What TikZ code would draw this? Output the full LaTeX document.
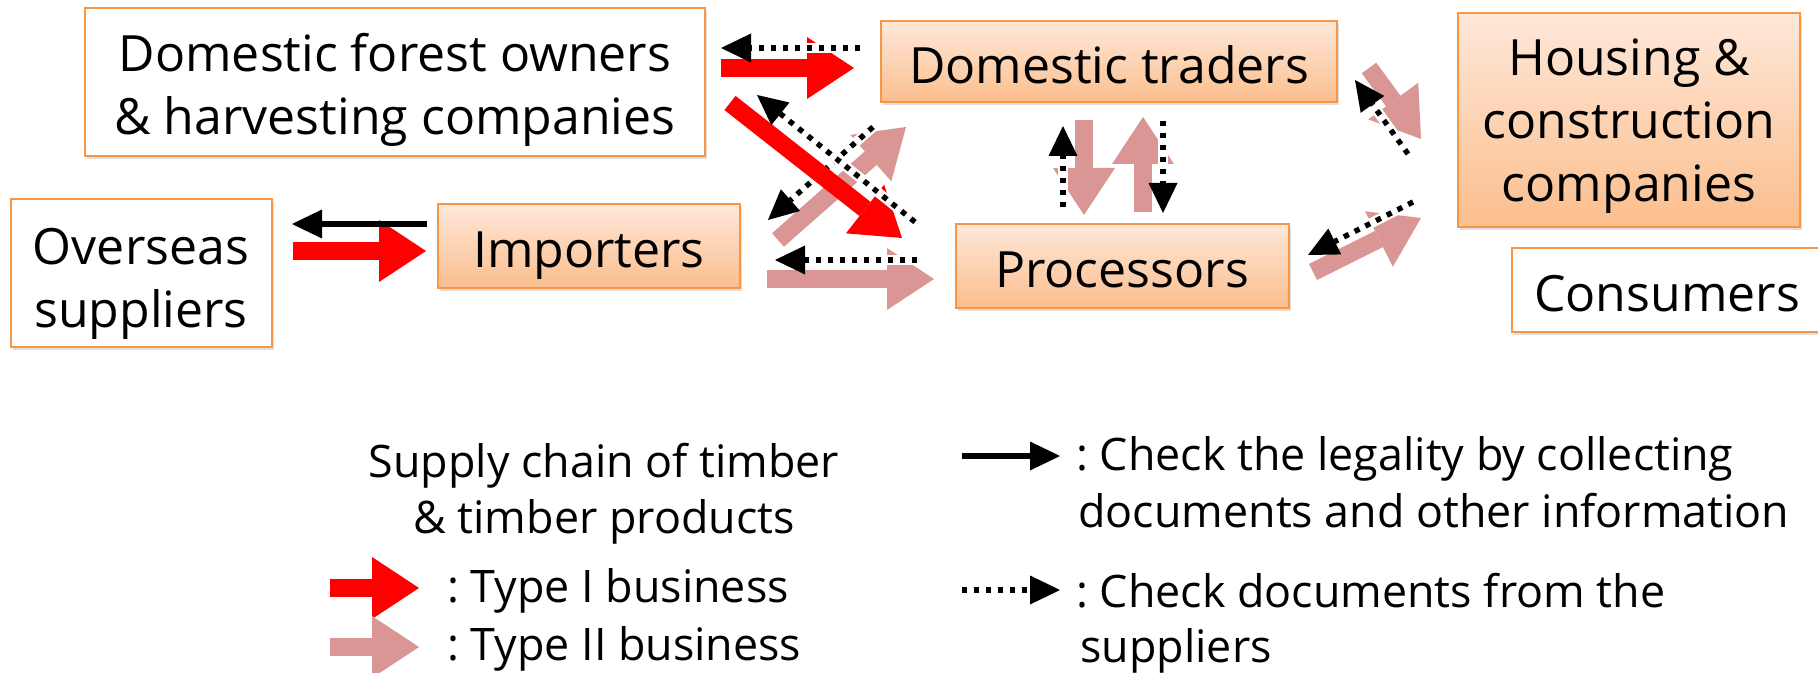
\documentclass[tikz,border=0pt]{standalone}
\usepackage{fontspec}
\setmainfont{Open Sans}
\usetikzlibrary{arrows.meta,shadows}
\frenchspacing

\definecolor{boxline}{HTML}{F79646}
\definecolor{boxtop}{HTML}{FEE8D9}
\definecolor{boxbottom}{HTML}{FBBE8D}
\definecolor{typeone}{HTML}{FF0000}
\definecolor{typetwo}{HTML}{D99694}

\begin{document}
\begin{tikzpicture}[x=0.5pt,y=-0.5pt,
	  box/.style={draw=boxline,line width=1pt,fill=white,align=center,inner sep=0pt,
	    font=\fontsize{25}{31.5}\selectfont,
	    drop shadow={shadow xshift=1pt,shadow yshift=-1.5pt,opacity=0.25}},
	  shadedbox/.style={box,top color=boxtop,bottom color=boxbottom},
	  oneline/.style={text height=21.5pt,text depth=0pt},
	  flow/.style={line width=9pt,-{Triangle[length=23.5pt,width=31pt,line width=0pt]}},
	  typeI/.style={flow,draw=typeone},
	  typeII/.style={flow,draw=typetwo},
	  legality/.style={line width=2.7pt,-{Triangle[length=15pt,width=14.5pt,line width=0pt]}},
	  docs/.style={legality,dash pattern=on 2.7pt off 3.3pt,
	    preaction={draw=white,line width=5pt,solid,-,shorten >=10pt}},
	  legend/.style={inner sep=0pt,font=\fontsize{22.4}{28}\selectfont}]

	\useasboundingbox (0,0) rectangle (1818,673);

	% actors
	\node[box,minimum width=310pt,minimum height=74pt] (forest) at (395,82) {\rule{0pt}{27pt}Domestic forest owners\\\& harvesting companies};
	\node[shadedbox,oneline,minimum width=228pt,minimum height=40.5pt] (traders) at (1109,62) {Domestic traders};
	\node[shadedbox,minimum width=171pt,minimum height=107pt] (housing) at (1629,120) {\rule{0pt}{25pt}Housing \&\\construction\\companies};
	\node[box,minimum width=130.5pt,minimum height=74pt] (overseas) at (141,273) {\rule{0pt}{29pt}Overseas\\suppliers};
	\node[shadedbox,oneline,minimum width=151pt,minimum height=42pt] (importers) at (589,246) {Importers};
	\node[shadedbox,oneline,minimum width=166.5pt,minimum height=42pt] (processors) at (1122,266) {Processors};
	\node[box,oneline,minimum width=155pt,minimum height=42pt] (consumers) at (1667,290) {Consumers};

	% ends of the flows
	\coordinate (ftS) at (721,68);   \coordinate (ftE) at (854,68);
	\coordinate (fpS) at (730,103);  \coordinate (fpE) at (902,238);
	\coordinate (oiS) at (293,251);  \coordinate (oiE) at (426,251);
	\coordinate (itS) at (778,240);  \coordinate (itE) at (906,127);
	\coordinate (ipS) at (767,279);  \coordinate (ipE) at (934,279);
	\coordinate (tpS) at (1084,120); \coordinate (tpE) at (1084,215);
	\coordinate (ptS) at (1143,212); \coordinate (ptE) at (1143,117);
	\coordinate (thS) at (1369,68);  \coordinate (thE) at (1421,139);
	\coordinate (phS) at (1313,272); \coordinate (phE) at (1421,218);
	\coordinate (tfS) at (860,48);   \coordinate (tfE) at (721,48);
	\coordinate (pfS) at (915,222);  \coordinate (pfE) at (757,95);
	\coordinate (tiS) at (873,127);  \coordinate (tiE) at (768,220);
	\coordinate (piS) at (917,260);  \coordinate (piE) at (775,260);
	\coordinate (ptdS) at (1063,207); \coordinate (ptdE) at (1063,126);
	\coordinate (tpdS) at (1163,121); \coordinate (tpdE) at (1163,213);
	\coordinate (htS) at (1408,154); \coordinate (htE) at (1355,80);
	\coordinate (hpS) at (1413,202); \coordinate (hpE) at (1308,255);
	\coordinate (ioS) at (427,224);  \coordinate (ioE) at (292,224);

	\draw[typeII] (itS) -- (itE);
	\draw[typeII] (ipS) -- (ipE);
	\draw[typeII] (tpS) -- (tpE);
	\draw[typeII] (ptS) -- (ptE);
	\draw[typeII] (thS) -- (thE);
	\draw[typeII] (phS) -- (phE);
	\draw[docs] (tiS) -- (tiE);
	\draw[typeI] (ftS) -- (ftE);
	\draw[typeI] (fpS) -- (fpE);
	\draw[typeI] (oiS) -- (oiE);
	\draw[docs] (tfS) -- (tfE);
	\draw[docs] (pfS) -- (pfE);
	\draw[docs] (piS) -- (piE);
	\draw[docs] (ptdS) -- (ptdE);
	\draw[docs] (tpdS) -- (tpdE);
	\draw[docs] (htS) -- (htE);
	\draw[docs] (hpS) -- (hpE);
	\draw[legality] (ioS) -- (ioE);

	% legend
	\node[legend,anchor=base] (chain) at (604,477) {Supply chain of timber};
	\node[legend,anchor=base] (products) at (604,533) {\& timber products};
	\node[legend,anchor=base west] (keyI) at (447,602) {: Type I business};
	\node[legend,anchor=base west] (keyII) at (447,660) {: Type II business};
	\node[legend,anchor=base west] (legal) at (1076,470) {: Check the legality by collecting};
	\node[legend,anchor=base west] (legalb) at (1078,527) {documents and other information};
	\node[legend,anchor=base west] (check) at (1076,607) {: Check documents from the};
	\node[legend,anchor=base west] (checkb) at (1080,662) {suppliers};

	\coordinate (kIS) at (330,588);  \coordinate (kIE) at (419,588);
	\coordinate (kIIS) at (330,647); \coordinate (kIIE) at (419,647);
	\coordinate (kLS) at (962,456);  \coordinate (kLE) at (1060,456);
	\coordinate (kDS) at (962,590);  \coordinate (kDE) at (1060,590);
	\draw[typeI] (kIS) -- (kIE);
	\draw[typeII] (kIIS) -- (kIIE);
	\draw[legality] (kLS) -- (kLE);
	\draw[docs] (kDS) -- (kDE);
\end{tikzpicture}
\end{document}
